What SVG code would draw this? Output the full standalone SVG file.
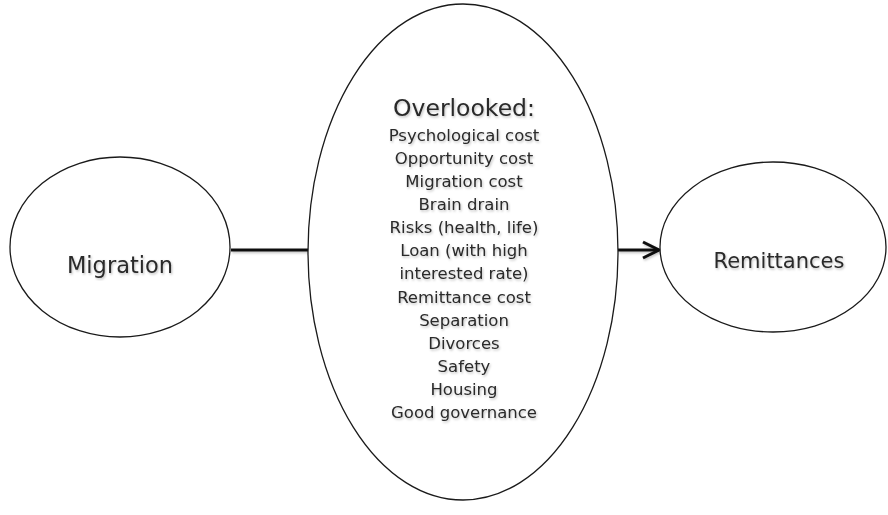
<svg xmlns="http://www.w3.org/2000/svg" width="888" height="515" viewBox="0 0 888 515">
<style>
.node{fill:#fff;stroke:#1a1a1a;stroke-width:1.3}
.lbl{font-family:"DejaVu Sans","Liberation Sans",sans-serif;fill:#2a2a2a;text-anchor:middle}
.item{font-size:16.5px}
.conn{stroke:#111;stroke-width:3;fill:none}
</style>
<defs>
<filter id="sh" x="-10%" y="-10%" width="120%" height="120%">
<feDropShadow dx="1" dy="1.5" stdDeviation="1" flood-color="#000" flood-opacity="0.25"/>
</filter>
<filter id="shl" filterUnits="userSpaceOnUse" x="0" y="0" width="888" height="515">
<feDropShadow dx="1" dy="1.5" stdDeviation="1" flood-color="#000" flood-opacity="0.25"/>
</filter>
<marker id="arr" markerUnits="userSpaceOnUse" markerWidth="24" markerHeight="24" refX="20" refY="12" orient="auto">
<path d="M4,4 L20,12 L4,20" fill="none" stroke="#111" stroke-width="3"/>
</marker>
</defs>
<g id="connectors" filter="url(#shl)">
<line class="conn" x1="231" y1="250" x2="309" y2="250"/>
<line class="conn" x1="618" y1="250" x2="659" y2="250" marker-end="url(#arr)"/>
</g>
<g id="migration">
<ellipse class="node" cx="120" cy="247" rx="110" ry="90"/>
<text class="lbl" x="120" y="273" font-size="22.5" filter="url(#sh)">Migration</text>
</g>
<g id="overlooked">
<ellipse class="node" cx="463" cy="252" rx="155" ry="248"/>
<g filter="url(#sh)">
<text class="lbl" x="464" y="116" font-size="23.5">Overlooked:</text>
<text class="lbl item" x="464" y="141">Psychological cost</text>
<text class="lbl item" x="464" y="164">Opportunity cost</text>
<text class="lbl item" x="464" y="187">Migration cost</text>
<text class="lbl item" x="464" y="210">Brain drain</text>
<text class="lbl item" x="464" y="233">Risks (health, life)</text>
<text class="lbl item" x="464" y="256">Loan (with high</text>
<text class="lbl item" x="464" y="279">interested rate)</text>
<text class="lbl item" x="464" y="303">Remittance cost</text>
<text class="lbl item" x="464" y="326">Separation</text>
<text class="lbl item" x="464" y="349">Divorces</text>
<text class="lbl item" x="464" y="372">Safety</text>
<text class="lbl item" x="464" y="395">Housing</text>
<text class="lbl item" x="464" y="418">Good governance</text>
</g>
</g>
<g id="remittances">
<ellipse class="node" cx="773" cy="247" rx="113" ry="85"/>
<text class="lbl" x="779" y="268" font-size="21" filter="url(#sh)">Remittances</text>
</g>
</svg>
